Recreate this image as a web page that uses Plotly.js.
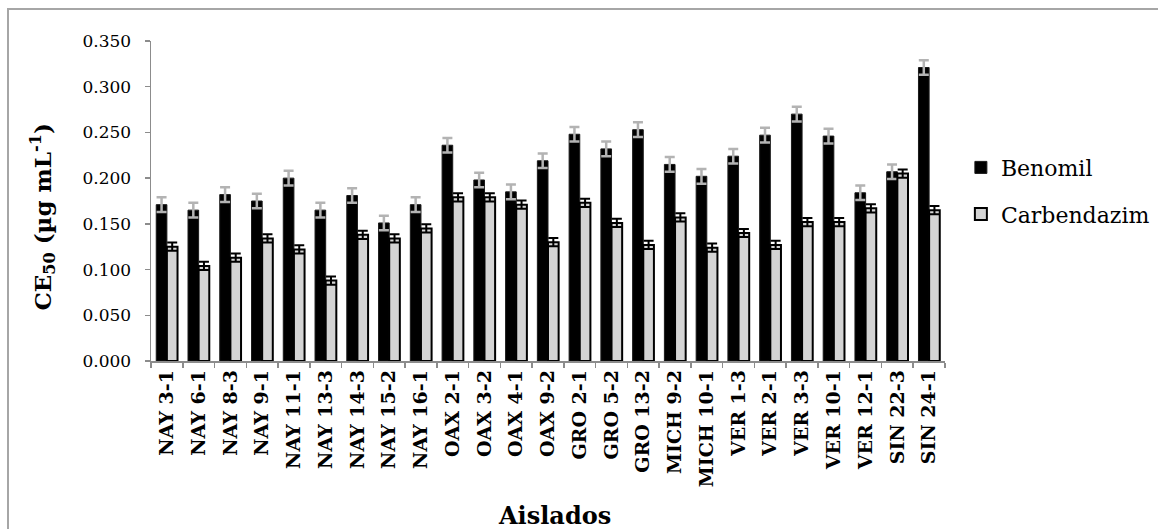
<!DOCTYPE html>
<html>
<head>
<meta charset="utf-8">
<script src="https://cdn.plot.ly/plotly-3.0.1.min.js"></script>
<style>
  html, body { margin: 0; padding: 0; background: #fff; }
  #wrap { position: relative; width: 1158px; height: 529px; }
  #chart { width: 1158px; height: 529px; }
  #frame { position: absolute; left: 7px; top: 8px; right: 0; bottom: 0;
           border-top: 2px solid #a6a6a6; border-left: 2px solid #a6a6a6;
           pointer-events: none; }
</style>
</head>
<body>
<div id="wrap">
  <div id="chart"></div>
  <div id="frame"></div>
</div>
<script>
const categories = ["NAY 3-1","NAY 6-1","NAY 8-3","NAY 9-1","NAY 11-1","NAY 13-3","NAY 14-3","NAY 15-2","NAY 16-1",
  "OAX 2-1","OAX 3-2","OAX 4-1","OAX 9-2","GRO 2-1","GRO 5-2","GRO 13-2","MICH 9-2","MICH 10-1",
  "VER 1-3","VER 2-1","VER 3-3","VER 10-1","VER 12-1","SIN 22-3","SIN 24-1"];
const benomil = [0.171,0.165,0.182,0.175,0.200,0.165,0.181,0.151,0.171,
  0.236,0.198,0.185,0.219,0.248,0.232,0.253,0.215,0.202,
  0.224,0.247,0.270,0.246,0.184,0.207,0.321];
const benomilErr = [0.008,0.008,0.008,0.008,0.008,0.008,0.008,0.008,0.008,
  0.008,0.008,0.008,0.008,0.008,0.008,0.008,0.008,0.008,
  0.008,0.008,0.008,0.008,0.008,0.008,0.008];
const carbendazim = [0.125,0.104,0.113,0.134,0.122,0.088,0.138,0.134,0.145,
  0.179,0.179,0.171,0.130,0.173,0.151,0.127,0.157,0.124,
  0.140,0.127,0.152,0.152,0.167,0.205,0.165];
const carbendazimErr = [0.0045,0.0045,0.0045,0.0045,0.0045,0.0045,0.0045,0.0045,0.0045,
  0.0045,0.0045,0.0045,0.0045,0.0045,0.0045,0.0045,0.0045,0.0045,
  0.0045,0.0045,0.0045,0.0045,0.0045,0.0045,0.0045];
const yTicks = [0, 0.05, 0.1, 0.15, 0.2, 0.25, 0.3, 0.35];
const yTickText = ["0.000","0.050","0.100","0.150","0.200","0.250","0.300","0.350"];

const serif = "DejaVu Serif";

const traces = [
  {
    type: "bar", name: "Benomil", x: categories, y: benomil, legendgroup: "a",
    marker: { color: "#000000", line: { color: "#1a1a1a", width: 1 } },
    error_y: { type: "data", array: benomilErr, visible: true, color: "#b3b3b3", thickness: 2.5, width: 5 }
  },
  {
    type: "bar", name: "Carbendazim", x: categories, y: carbendazim, legendgroup: "b",
    marker: { color: "#d4d4d4", line: { color: "#000000", width: 2 } },
    error_y: { type: "data", array: carbendazimErr, visible: true, color: "#000000", thickness: 2, width: 5 }
  }
];

const layout = {
  width: 1158, height: 529,
  margin: { l: 151, r: 213, t: 41, b: 168, autoexpand: false },
  paper_bgcolor: "#ffffff", plot_bgcolor: "#ffffff",
  barmode: "group", bargap: 0.33, bargroupgap: 0,
  showlegend: true,
  legend: {
    x: 1.02, y: 0.67, xanchor: "left", yanchor: "top",
    font: { family: serif, size: 22, color: "#000" },
    tracegroupgap: 15, bgcolor: "rgba(0,0,0,0)"
  },
  xaxis: {
    type: "category", showgrid: false, zeroline: false,
    showline: true, linecolor: "#8c8c8c", linewidth: 1.5,
    ticks: "outside", tickson: "boundaries", ticklen: 5, tickcolor: "#8c8c8c", tickwidth: 1.5,
    tickangle: -90,
    tickfont: { family: serif, size: 19, color: "#000", weight: "bold" },
    automargin: false
  },
  yaxis: {
    range: [0, 0.35], showgrid: false, zeroline: false,
    showline: true, linecolor: "#8c8c8c", linewidth: 1.5,
    ticks: "outside", ticklen: 5, tickcolor: "#8c8c8c", tickwidth: 1.5,
    ticklabelstandoff: 10,
    tickvals: yTicks, ticktext: yTickText,
    tickfont: { family: serif, size: 17, color: "#000" },
    automargin: false
  },
  annotations: [
    {
      text: "CE<sub>50</sub> (µg mL<sup>-1</sup>)", textangle: -90,
      xref: "paper", yref: "paper", x: -0.137, y: 0.449,
      xanchor: "center", yanchor: "middle", showarrow: false,
      font: { family: serif, size: 23, color: "#000", weight: "bold" }
    },
    {
      text: "Aislados",
      xref: "paper", yref: "paper", x: 0.5076, y: -0.484,
      xanchor: "center", yanchor: "middle", showarrow: false,
      font: { family: serif, size: 24, color: "#000", weight: "bold" }
    }
  ]
};

Plotly.newPlot("chart", traces, layout, { displayModeBar: false, staticPlot: true });
</script>
</body>
</html>
